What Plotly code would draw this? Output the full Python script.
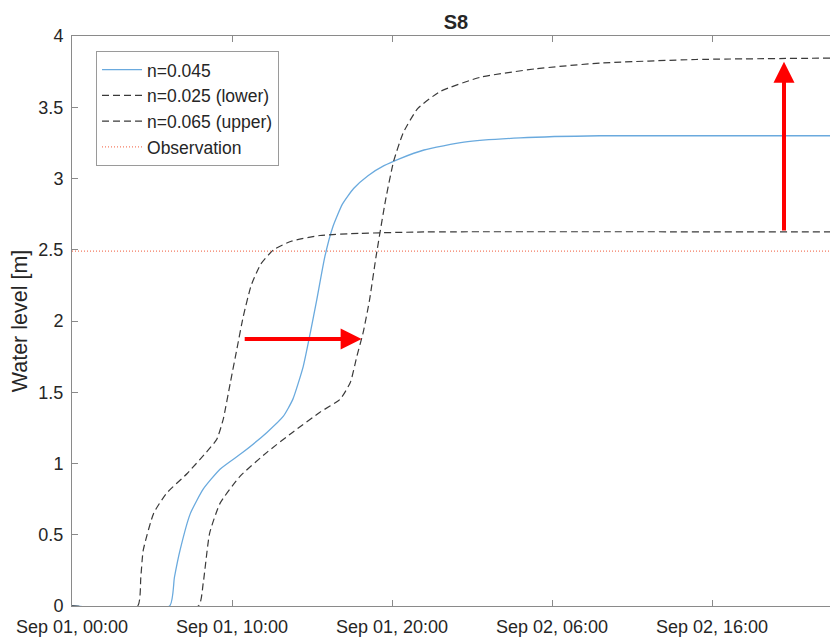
import pandas as pd
import plotly.graph_objects as go

# ---- data (hours after Sep 01 00:00, water level in m) ----
base_n_hours = [0, 6.1, 6.4, 6.75, 7.4, 8.2, 9.25, 10.7, 12.2, 13.2, 13.8, 14.45, 14.9,
                15.3, 15.8, 16.3, 16.9, 17.6, 18.5, 19.5, 20.5, 22.0, 24.5, 28.0, 33.0, 47.4]
base_n_level = [0, 0, 0.2, 0.39, 0.65, 0.82, 0.96, 1.08, 1.22, 1.33, 1.45, 1.68, 1.92,
                2.15, 2.45, 2.66, 2.82, 2.93, 3.02, 3.09, 3.14, 3.2, 3.255, 3.285, 3.30, 3.30]

lower_hours = [0, 4.1, 4.3, 4.45, 5.1, 5.9, 7.2, 8.4, 9.05, 9.45, 9.9, 10.3, 10.7,
               11.2, 11.8, 12.6, 13.7, 15.5, 18.0, 22.0, 47.4]
lower_level = [0, 0, 0.2, 0.39, 0.65, 0.79, 0.93, 1.08, 1.17, 1.31, 1.57, 1.8, 2.03,
               2.25, 2.4, 2.5, 2.56, 2.6, 2.615, 2.625, 2.625]

upper_hours = [0, 7.9, 8.2, 8.6, 9.25, 10.5, 12.2, 13.8, 15.5, 16.75, 17.4, 17.8, 18.2,
               18.6, 19.0, 19.6, 20.1, 20.7, 21.6, 23.0, 25.5, 29.0, 33.0, 39.0, 47.4]
upper_level = [0, 0, 0.16, 0.51, 0.72, 0.91, 1.08, 1.22, 1.36, 1.45, 1.57, 1.75, 1.92,
               2.15, 2.45, 2.85, 3.12, 3.32, 3.49, 3.61, 3.71, 3.77, 3.81, 3.835, 3.845]

obs_hours = [0, 47.4]
obs_level = [2.49, 2.49]

# arrows: (tail hours, tail level, tip hours, tip level)
shift_arrow = [10.7, 1.874, 18.1, 1.874]
rise_arrow = [44.5, 2.625, 44.5, 3.82]

x_range_hours = [0, 47.375]
start = pd.Timestamp("2021-09-01 00:00")


def to_time(hours):
    return start + pd.to_timedelta(pd.Series(hours, dtype=float), unit="h")


FONT = "Liberation Sans, Arial, Helvetica, sans-serif"
AX = "#8a8a8a"
TXT = "#262626"

fig = go.Figure()
fig.add_trace(go.Scatter(x=to_time(base_n_hours), y=base_n_level, mode="lines",
                         name="n=0.045", line=dict(color="#6aaade", width=1.3,
                                                   shape="spline", smoothing=0.5)))
fig.add_trace(go.Scatter(x=to_time(lower_hours), y=lower_level, mode="lines",
                         name="n=0.025 (lower)", line=dict(color="#3a3a3a", width=1.2,
                                                           dash="7px,4px", shape="spline",
                                                           smoothing=0.5)))
fig.add_trace(go.Scatter(x=to_time(upper_hours), y=upper_level, mode="lines",
                         name="n=0.065 (upper)", line=dict(color="#3a3a3a", width=1.2,
                                                           dash="7px,4px", shape="spline",
                                                           smoothing=0.5)))
fig.add_trace(go.Scatter(x=to_time(obs_hours), y=obs_level, mode="lines",
                         name="Observation", line=dict(color="#f47a60", width=1.2,
                                                       dash="1px,2px")))

for a in (shift_arrow, rise_arrow):
    t0, l0, t1, l1 = a
    fig.add_annotation(x=to_time([t1])[0], y=l1, ax=to_time([t0])[0], ay=l0,
                       xref="x", yref="y", axref="x", ayref="y", text="",
                       showarrow=True, arrowhead=2, arrowsize=1.05, arrowwidth=4,
                       arrowcolor="#ff0000", standoff=0, startstandoff=0)

xr = to_time(x_range_hours)
fig.update_layout(
    width=830, height=638,
    margin=dict(l=72, r=0, t=36, b=32),
    paper_bgcolor="white", plot_bgcolor="white",
    font=dict(family=FONT, size=18, color=TXT),
    title=dict(text="<b>S8</b>", x=456 / 830, xref="container", xanchor="center",
               y=1 - 22 / 638, yref="container", yanchor="middle",
               font=dict(size=20, color=TXT, family=FONT)),
    showlegend=True,
    legend=dict(x=0.0317, y=0.974, xanchor="left", yanchor="top",
                bgcolor="white", bordercolor="#9a9a9a", borderwidth=1,
                font=dict(size=17.5, color=TXT, family=FONT),
                itemwidth=40, tracegroupgap=0),
    xaxis=dict(type="date", range=[xr[0], xr[1]], tick0=start, dtick=36000000,
               tickformat="%b %d, %H:%M", ticks="inside", ticklen=6,
               tickcolor=AX, showline=True, linecolor=AX, linewidth=1,
               mirror="ticks", showgrid=False, zeroline=False,
               ticklabelstandoff=4,
               tickfont=dict(size=18, color=TXT)),
    yaxis=dict(range=[0, 4], dtick=0.5, ticks="inside", ticklen=6, tickcolor=AX,
               showline=True, linecolor=AX, linewidth=1, mirror=False,
               showgrid=False, zeroline=False, ticklabelstandoff=4,
               tickfont=dict(size=18, color=TXT),
               title=dict(text="Water level [m]", standoff=4,
                          font=dict(size=21.5, color=TXT))),
)

fig.write_html("out.html")
